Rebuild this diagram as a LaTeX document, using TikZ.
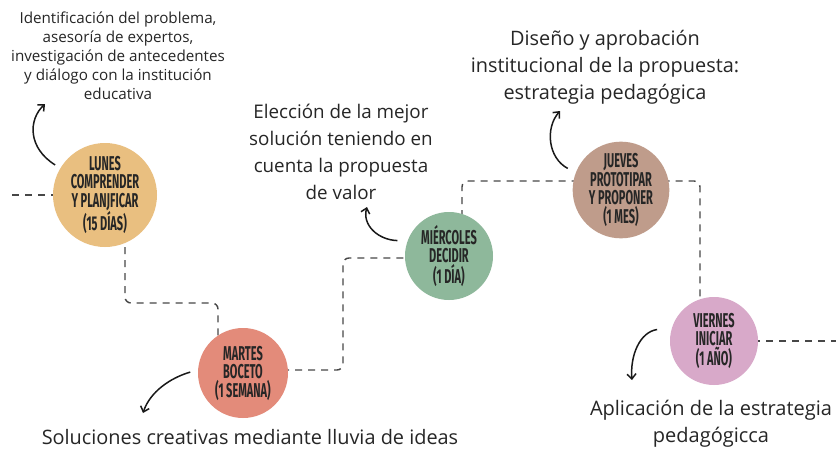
\documentclass[tikz,border=0pt]{standalone}
\usepackage{fontspec}
\setmainfont{Open Sans}
\newfontfamily\circfont[FakeStretch=0.55]{Fira Sans}
\usetikzlibrary{arrows.meta}
\pgfdeclarelayer{bg}
\pgfsetlayers{bg,main}
\definecolor{clunes}{HTML}{E9BF80}
\definecolor{cmartes}{HTML}{E38B7A}
\definecolor{cmierc}{HTML}{8EB89B}
\definecolor{cjueves}{HTML}{BF9C8B}
\definecolor{cviernes}{HTML}{D8A9C9}
\definecolor{ink}{HTML}{262626}
\begin{document}
\begin{tikzpicture}[x=1pt,y=-1pt,
  circ/.style={circle, inner sep=0pt, text=ink, align=center,
    font=\circfont\bfseries\fontsize{20}{18.5}\selectfont},
  dline/.style={draw=black!72, line width=1.4pt, dash pattern=on 7pt off 6pt, rounded corners=6pt},
  carrow/.style={draw=black!90, line width=1.5pt, -{Straight Barb[length=5pt,width=9pt,line width=1.5pt]}},
  lbl/.style={text=ink, align=center},
  small/.style={font=\fontsize{15.2}{19}\selectfont}
]
\useasboundingbox (0,0) rectangle (836,450);
\begin{pgfonlayer}{bg}
  \fill[white] (0,0) rectangle (836,450);
\end{pgfonlayer}

% circles
\node[circ, fill=clunes, minimum size=104pt] (lunes) at (105,195) {LUNES\\COMPRENDER\\Y PLANJFICAR\\(15 DÍAS)};
\node[circ, fill=cmartes, minimum size=90pt] (martes) at (243,373) {MARTES\\BOCETO\\(1 SEMANA)};
\node[circ, fill=cmierc, minimum size=88pt] (mierc) at (449,256) {MIÉRCOLES\\DECIDIR\\(1 DÍA)};
\node[circ, fill=cjueves, minimum size=92pt] (jueves) at (621,190) {JUEVES\\PROTOTIPAR\\Y PROPONER\\(1 MES)};
\node[circ, fill=cviernes, minimum size=88pt] (viernes) at (714,341) {VIERNES\\INICIAR\\(1 AÑO)};

% texts
\node[lbl, small] (tlunes) at (118,56) {Identificación del problema,\\asesoría de expertos,\\investigación de antecedentes\\y diálogo con la institución\\educativa};
\node[lbl, font=\fontsize{18.8}{27}\selectfont] (tmierc) at (341,152) {Elección de la mejor\\solución teniendo en\\cuenta la propuesta\\de valor};
\node[lbl, font=\fontsize{19.9}{27}\selectfont] (tjueves) at (605,67) {Diseño y aprobación\\institucional de la propuesta:\\estrategia pedagógica};
\node[lbl, font=\fontsize{19.9}{27}\selectfont] (tmartes) at (250,437) {Soluciones creativas mediante lluvia de ideas};
\node[lbl, font=\fontsize{20}{27}\selectfont] (tviernes) at (711,424) {Aplicación de la estrategia\\pedagógicca};

% free ends
\coordinate (lstart) at (12,195);
\coordinate (rend) at (836,341);
\coordinate (e1) at (45,104);
\coordinate (e2) at (143,413);
\coordinate (e3) at (367,207);
\coordinate (e4) at (560,111);
\coordinate (e5) at (632,380);

% dashed path
\begin{pgfonlayer}{bg}
  \draw[dline] (lstart) -- (lunes.center);
  \draw[dline] ([xshift=20pt]lunes.center) -- ++(0,108) -| ([xshift=-25pt]martes.center);
  \draw[dline] ([yshift=3pt]martes.center) -- ++(100,0) |- ([yshift=-2pt]mierc.center);
  \draw[dline] ([xshift=13pt]mierc.center) |- ([yshift=9pt]jueves.center) -| ([xshift=-14pt]viernes.center);
  \draw[dline] (viernes.center) -- (rend);
\end{pgfonlayer}

% curved arrows
\draw[carrow, shorten <=6pt] (lunes.149) .. controls (28,148) and (28,120) .. (e1);
\draw[carrow, shorten <=8pt] (martes.176) .. controls (170,378) and (150,392) .. (e2);
\draw[carrow, shorten <=10pt] (mierc.160) .. controls (378,240) and (362,225) .. (e3);
\draw[carrow, shorten <=9pt] (jueves.159) .. controls (548,158) and (545,128) .. (e4);
\draw[carrow, shorten <=15pt] (viernes.162) .. controls (640,332) and (630,355) .. (e5);
\end{tikzpicture}
\end{document}
